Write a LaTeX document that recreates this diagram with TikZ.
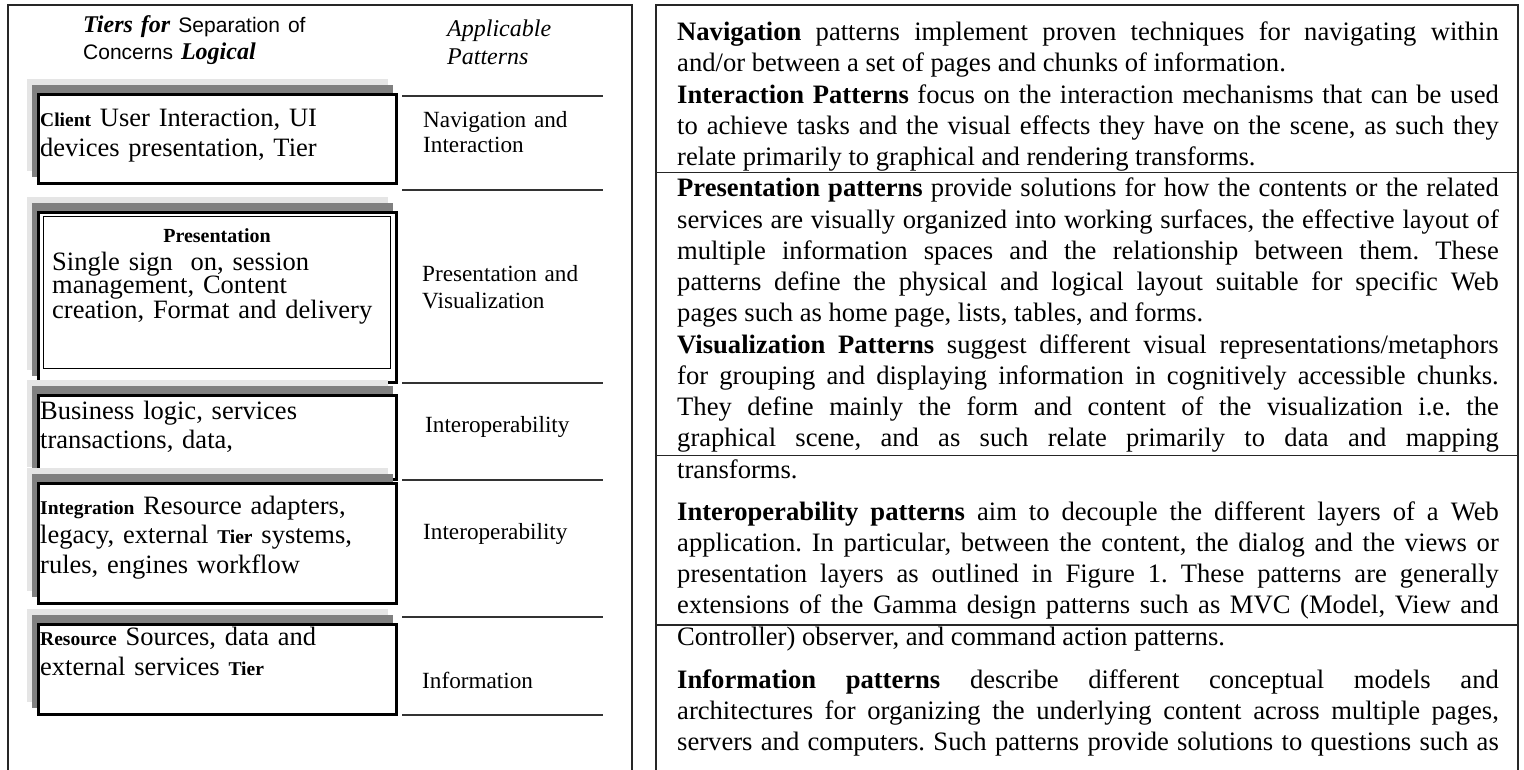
\documentclass[tikz,border=0pt]{standalone}
\usepackage{fontspec}
\setmainfont{Liberation Serif}
\newfontfamily\sansfnt{Liberation Sans}
\usepackage{tikz}
\usetikzlibrary{positioning}

\newcommand{\tiertag}[1]{{\fontsize{19.5}{19.5}\selectfont\bfseries #1}}
\newcommand{\bodysetup}{\fontsize{26.6}{31.25}\selectfont\frenchspacing
  \pretolerance=-1 \tolerance=10000 \hyphenpenalty=10000 \hbadness=10000 }

\begin{document}
\begin{tikzpicture}[x=1pt,y=-1pt,
  frame/.style={line width=1.4pt,black!85},
  tierbox/.style={line width=3pt,fill=white},
  shadedark/.style={fill=black!50},
  shadelight/.style={fill=black!10},
  rule/.style={line width=1.2pt,black!80},
  tiertext/.style={anchor=base west,inner sep=0pt,text width=350pt,align=left,
    font=\fontsize{26.5}{30}\selectfont},
  patlabel/.style={anchor=base west,inner sep=0pt,text width=190pt,align=left,
    font=\fontsize{23.2}{25}\selectfont},
  bodytext/.style={anchor=base west,inner sep=0pt,text width=821.6pt,align=justify,
    font=\bodysetup}]
\useasboundingbox (0,0) rectangle (1524,770);

% left panel: tiers and applicable patterns
\draw[frame] (8,770) -- (8,5) -- (632,5) -- (632,770);
\node[anchor=base west,inner sep=0pt,text width=260pt,align=left,
  font=\fontsize{24}{27}\selectfont] (hdtiers) at (83,33)
  {\textbf{\textit{Tiers for}} {\sansfnt\fontsize{21}{27}\selectfont Separation of}\\
   {\sansfnt\fontsize{21}{27}\selectfont Concerns} \textbf{\textit{Logical}}};
\node[anchor=base west,inner sep=0pt,text width=150pt,align=left,
  font=\fontsize{24}{28}\selectfont\itshape] (hdpat) at (447,37) {Applicable\\Patterns};

\foreach \t/\b in {95/184,213/382,395/479,483/603,624/714}{
  \fill[shadelight] (26.5,\t-15.5) rectangle (387.5,\b-12.5);
  \fill[shadedark] (31.5,\t-9.5) rectangle (392.5,\b-6.5);
  \draw[tierbox] (38,\t) rectangle (396,\b);
}
\draw[line width=1pt] (43,217) rectangle (390,368);

\node[tiertext] (client) at (40,127) {\tiertag{Client} User Interaction, UI\\devices presentation, Tier};
\node[anchor=base,inner sep=0pt,font=\fontsize{20}{20}\selectfont\bfseries] (prestag) at (217,243) {Presentation};
\node[tiertext,font=\fontsize{26.5}{23.5}\selectfont] (pres) at (52,270)
  {Single sign\ \ on, session\\management, Content\\creation, Format and delivery};
\node[tiertext,font=\fontsize{26.5}{29}\selectfont] (busi) at (40,419) {Business logic, services\\transactions, data,};
\node[tiertext,font=\fontsize{26.5}{29.5}\selectfont] (integ) at (40,514)
  {\tiertag{Integration} Resource adapters,\\legacy, external \tiertag{Tier} systems,\\rules, engines workflow};
\node[tiertext] (res) at (40,645)
  {\tiertag{Resource} Sources, data and\\external services \tiertag{Tier}};

\foreach \y in {96,190,383,480,617,715} \draw[rule] (402,\y) -- (603,\y);
\node[patlabel] (lbnav) at (423,128) {Navigation and\\Interaction};
\node[patlabel,font=\fontsize{23.2}{28}\selectfont] (lbpres) at (422,281) {Presentation and\\Visualization};
\node[patlabel] (lbinterA) at (425,432) {Interoperability};
\node[patlabel] (lbinterB) at (423,539) {Interoperability};
\node[patlabel] (lbinfo) at (422,688) {Information};

% right panel: pattern descriptions
\draw[frame] (656,770) -- (656,5) -- (1518,5) -- (1518,770);
\foreach \y in {172.7,455.7,625} \draw[frame] (656,\y) -- (1518,\y);

\node[bodytext] (txtA) at (677,40.7)
  {\textbf{Navigation} patterns implement proven techniques for navigating within\linebreak
   and/or between a set of pages and chunks of information.\par
   \textbf{Interaction Patterns} focus on the interaction mechanisms that can be used\linebreak
   to achieve tasks and the visual effects they have on the scene, as such they\linebreak
   relate primarily to graphical and rendering transforms.\par
   \textbf{Presentation patterns} provide solutions for how the contents or the related\linebreak
   services are visually organized into working surfaces, the effective layout of\linebreak
   multiple information spaces and the relationship between them. These\linebreak
   patterns define the physical and logical layout suitable for specific Web\linebreak
   pages such as home page, lists, tables, and forms.\par
   \textbf{Visualization Patterns} suggest different visual representations/metaphors\linebreak
   for grouping and displaying information in cognitively accessible chunks.\linebreak
   They define mainly the form and content of the visualization i.e. the\linebreak
   graphical scene, and as such relate primarily to data and mapping\linebreak
   transforms.};
\node[bodytext] (txtB) at (677,520)
  {\textbf{Interoperability patterns} aim to decouple the different layers of a Web\linebreak
   application. In particular, between the content, the dialog and the views or\linebreak
   presentation layers as outlined in Figure 1. These patterns are generally\linebreak
   extensions of the Gamma design patterns such as MVC (Model, View and\linebreak
   Controller) observer, and command action patterns.};
\node[bodytext] (txtC) at (677,688.3)
  {\textbf{Information patterns} describe different conceptual models and\linebreak
   architectures for organizing the underlying content across multiple pages,\linebreak
   servers and computers. Such patterns provide solutions to questions such as\linebreak\null};
\end{tikzpicture}
\end{document}
